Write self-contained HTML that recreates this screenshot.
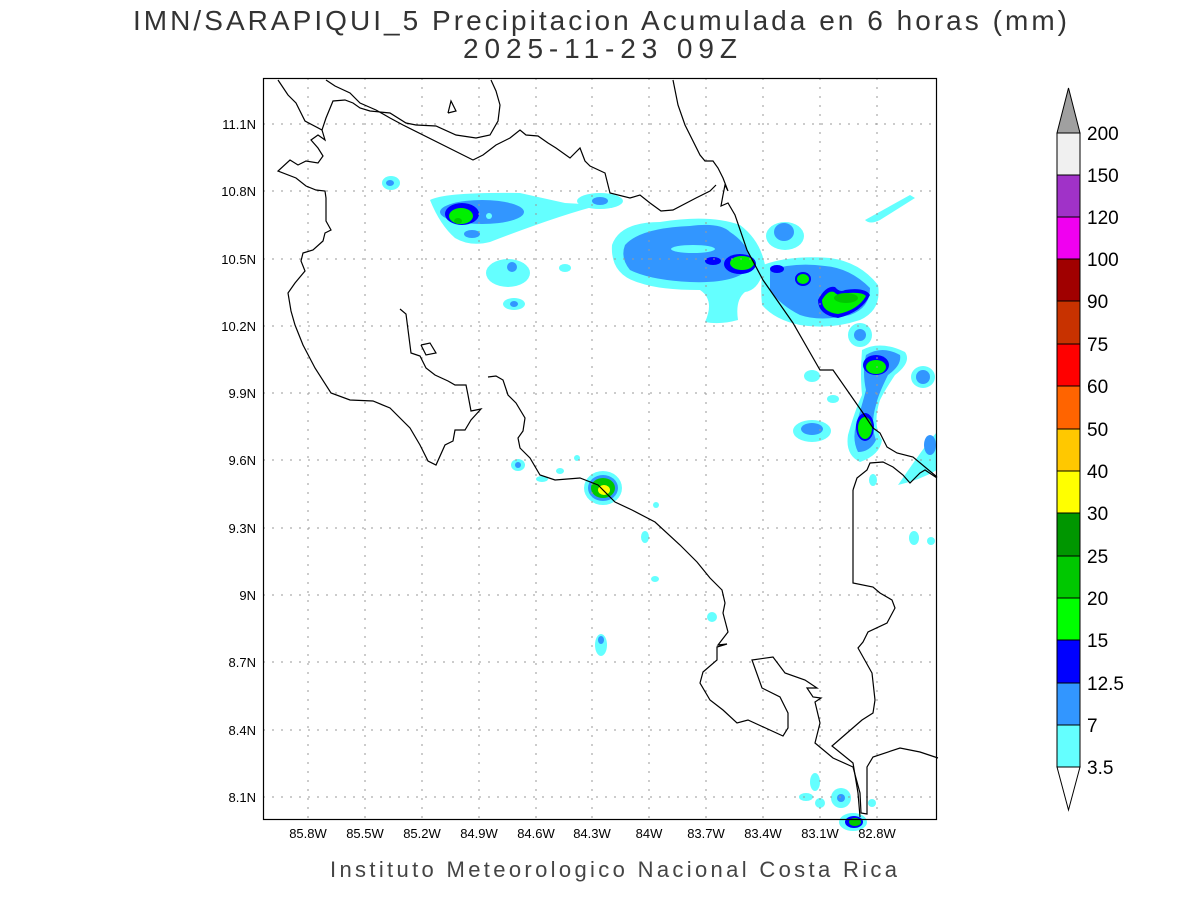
<!DOCTYPE html>
<html><head><meta charset="utf-8"><style>
body{margin:0;background:#fff;}
svg{display:block;font-family:"Liberation Sans",sans-serif;}
</style></head><body>
<svg width="1200" height="900" viewBox="0 0 1200 900" xmlns="http://www.w3.org/2000/svg">
<rect width="1200" height="900" fill="#fff"/>
<text x="133" y="30" font-size="28" textLength="934" lengthAdjust="spacing" fill="#333">IMN/SARAPIQUI_5 Precipitacion Acumulada en 6 horas (mm)</text>
<text x="463" y="58" font-size="28" textLength="274" lengthAdjust="spacing" fill="#333">2025-11-23 09Z</text>

<g>
<path d="M430,200 Q445,192 520,193 L565,203 L600,205 Q560,215 490,242 Q470,247 455,238 Q440,225 430,200Z" fill="#64ffff"/>
<ellipse cx="482" cy="212" rx="42" ry="12" fill="#3296ff"/>
<ellipse cx="462" cy="214" rx="17" ry="11" fill="#0000ff"/>
<ellipse cx="461" cy="216" rx="12" ry="8" fill="#00f000"/>
<ellipse cx="458" cy="221" rx="4" ry="3" fill="#00c800"/>
<ellipse cx="472" cy="234" rx="8" ry="4" fill="#3296ff"/>
<ellipse cx="391" cy="183" rx="9" ry="7" fill="#64ffff"/><ellipse cx="390" cy="183" rx="4" ry="3" fill="#3296ff"/>
<ellipse cx="600" cy="201" rx="23" ry="8" fill="#64ffff"/><ellipse cx="600" cy="201" rx="8" ry="4" fill="#3296ff"/>
<ellipse cx="508" cy="273" rx="22" ry="14" fill="#64ffff"/><ellipse cx="512" cy="267" rx="5" ry="5" fill="#3296ff"/>
<ellipse cx="514" cy="304" rx="11" ry="6" fill="#64ffff"/><ellipse cx="514" cy="304" rx="4" ry="3" fill="#3296ff"/>
<ellipse cx="565" cy="268" rx="6" ry="4" fill="#64ffff"/>
<ellipse cx="489" cy="216" rx="3" ry="3" fill="#64ffff"/>
<path d="M612,245 Q620,222 660,222 Q710,214 740,225 Q760,240 765,265 Q760,290 745,292 Q735,300 738,320 Q720,325 705,322 Q715,300 700,290 Q660,290 640,283 Q610,275 612,245Z" fill="#64ffff"/>
<path d="M625,245 Q640,228 690,226 Q720,222 730,232 Q750,245 752,265 Q740,284 690,282 Q650,280 630,270 Q620,258 625,245Z" fill="#3296ff"/>
<ellipse cx="693" cy="249" rx="22" ry="4" fill="#64ffff"/>
<ellipse cx="713" cy="261" rx="8" ry="4" fill="#0000ff"/>
<ellipse cx="740" cy="264" rx="16" ry="10" fill="#0000ff"/>
<ellipse cx="742" cy="263" rx="12" ry="7" fill="#00f000"/>
<ellipse cx="785" cy="236" rx="19" ry="14" fill="#64ffff"/><ellipse cx="784" cy="232" rx="10" ry="9" fill="#3296ff"/>
<path d="M763,265 Q790,255 830,258 Q860,262 878,285 Q882,310 860,320 Q830,330 800,325 Q775,320 762,305 Q760,285 763,265Z" fill="#64ffff"/>
<path d="M770,270 Q795,262 825,266 Q850,268 870,288 Q870,308 850,315 Q820,322 800,315 Q780,305 770,290Z" fill="#3296ff"/>
<ellipse cx="777" cy="269" rx="7" ry="4" fill="#0000ff"/>
<ellipse cx="803" cy="279" rx="8" ry="7" fill="#0000ff"/><ellipse cx="803" cy="279" rx="6" ry="5" fill="#00f000"/>
<path d="M818,300 Q826,285 835,287 Q840,293 845,290 Q865,287 870,295 Q862,312 838,318 Q818,315 818,300Z" fill="#0000ff"/>
<path d="M822,300 Q828,290 834,292 Q840,298 848,293 Q862,292 866,296 Q858,310 838,314 Q822,312 822,300Z" fill="#00f000"/>
<ellipse cx="846" cy="298" rx="12" ry="5" fill="#00c800"/>
<ellipse cx="860" cy="335" rx="12" ry="12" fill="#64ffff"/><ellipse cx="860" cy="335" rx="6" ry="6" fill="#3296ff"/>
<path d="M862,350 Q880,340 905,352 Q912,362 895,375 Q885,390 880,400 Q872,425 882,440 Q880,455 860,462 Q845,455 848,435 Q855,410 862,395 Q860,375 862,350Z" fill="#64ffff"/>
<path d="M866,355 Q882,345 900,355 Q902,365 888,375 Q878,395 876,405 Q870,425 876,440 Q870,452 858,452 Q852,440 856,425 Q862,405 866,390 Q862,372 866,355Z" fill="#3296ff"/>
<ellipse cx="876" cy="365" rx="13" ry="10" fill="#0000ff"/><ellipse cx="876" cy="367" rx="10" ry="7" fill="#00f000"/>
<ellipse cx="865" cy="427" rx="9" ry="14" fill="#0000ff"/><ellipse cx="865" cy="428" rx="7" ry="11" fill="#00f000"/>
<ellipse cx="812" cy="431" rx="19" ry="11" fill="#64ffff"/><ellipse cx="812" cy="429" rx="11" ry="6" fill="#3296ff"/>
<ellipse cx="812" cy="376" rx="8" ry="6" fill="#64ffff"/>
<ellipse cx="923" cy="377" rx="12" ry="11" fill="#64ffff"/><ellipse cx="923" cy="377" rx="7" ry="7" fill="#3296ff"/>
<path d="M865,220 L910,195 L915,198 L880,220 Q870,225 865,220Z" fill="#64ffff"/>
<path d="M898,485 Q915,460 930,440 L937,432 L937,470 Q920,480 898,485Z" fill="#64ffff"/>
<ellipse cx="930" cy="445" rx="6" ry="10" fill="#3296ff"/>
<ellipse cx="833" cy="399" rx="6" ry="4" fill="#64ffff"/>
<ellipse cx="603" cy="488" rx="19" ry="17" fill="#64ffff"/>
<ellipse cx="603" cy="488" rx="15" ry="13" fill="#3296ff"/>
<ellipse cx="603" cy="488" rx="12" ry="10" fill="#00c800"/>
<ellipse cx="604" cy="490" rx="6" ry="5" fill="#ffff00"/>
<ellipse cx="518" cy="465" rx="7" ry="6" fill="#64ffff"/><ellipse cx="518" cy="465" rx="3" ry="3" fill="#3296ff"/>
<ellipse cx="560" cy="471" rx="4" ry="3" fill="#64ffff"/>
<ellipse cx="577" cy="458" rx="3" ry="3" fill="#64ffff"/>
<ellipse cx="542" cy="479" rx="6" ry="3" fill="#64ffff"/>
<ellipse cx="656" cy="505" rx="3" ry="3" fill="#64ffff"/>
<ellipse cx="645" cy="537" rx="4" ry="6" fill="#64ffff"/>
<ellipse cx="655" cy="579" rx="4" ry="3" fill="#64ffff"/>
<ellipse cx="712" cy="617" rx="5" ry="5" fill="#64ffff"/>
<ellipse cx="601" cy="645" rx="6" ry="11" fill="#64ffff"/><ellipse cx="601" cy="640" rx="3" ry="4" fill="#3296ff"/>
<ellipse cx="914" cy="538" rx="5" ry="7" fill="#64ffff"/>
<ellipse cx="931" cy="541" rx="4" ry="4" fill="#64ffff"/>
<ellipse cx="873" cy="480" rx="4" ry="6" fill="#64ffff"/>
<ellipse cx="815" cy="782" rx="5" ry="9" fill="#64ffff"/>
<ellipse cx="806" cy="797" rx="7" ry="4" fill="#64ffff"/>
<ellipse cx="820" cy="803" rx="5" ry="5" fill="#64ffff"/>
<ellipse cx="841" cy="798" rx="10" ry="10" fill="#64ffff"/><ellipse cx="841" cy="798" rx="4" ry="4" fill="#3296ff"/>
<ellipse cx="853" cy="822" rx="14" ry="9" fill="#64ffff"/><ellipse cx="854" cy="822" rx="9" ry="6" fill="#0000ff"/><ellipse cx="855" cy="822" rx="6" ry="4" fill="#00c800"/>
<ellipse cx="872" cy="803" rx="4" ry="4" fill="#64ffff"/>
</g>

<g stroke="#999" stroke-width="1" stroke-dasharray="2,7">
<line x1="308" y1="78" x2="308" y2="820"/><line x1="365" y1="78" x2="365" y2="820"/><line x1="422" y1="78" x2="422" y2="820"/><line x1="479" y1="78" x2="479" y2="820"/><line x1="536" y1="78" x2="536" y2="820"/><line x1="592" y1="78" x2="592" y2="820"/><line x1="649" y1="78" x2="649" y2="820"/><line x1="706" y1="78" x2="706" y2="820"/><line x1="763" y1="78" x2="763" y2="820"/><line x1="820" y1="78" x2="820" y2="820"/><line x1="877" y1="78" x2="877" y2="820"/>
<line x1="263" y1="124" x2="937" y2="124"/><line x1="263" y1="191" x2="937" y2="191"/><line x1="263" y1="259" x2="937" y2="259"/><line x1="263" y1="326" x2="937" y2="326"/><line x1="263" y1="393" x2="937" y2="393"/><line x1="263" y1="460" x2="937" y2="460"/><line x1="263" y1="528" x2="937" y2="528"/><line x1="263" y1="595" x2="937" y2="595"/><line x1="263" y1="662" x2="937" y2="662"/><line x1="263" y1="730" x2="937" y2="730"/><line x1="263" y1="797" x2="937" y2="797"/>
</g>

<g fill="none" stroke="#000" stroke-width="1.2">
<polyline points="278,80 288,95 296,103 305,121 322,130 326,118 333,101 345,100 353,103 360,108 370,111 390,113 406,123 416,125 436,126 456,135 476,138 490,135 498,121 500,105 496,91 491,80"/>
<polyline points="326,80 335,86 350,93 360,103 376,110 390,118 403,125 473,160 483,155 496,145 510,138 520,130 526,135 538,136 548,143 556,148 570,158 580,148 585,161 590,166 605,173 610,193 630,198 640,195 650,203 661,211 673,210 696,198 710,191 716,185"/>
<polyline points="673,80 678,105 685,125 700,155 705,161 713,161 718,168 723,178 728,191 725,185 723,195 721,206 728,203 735,215 747,250 763,280 793,323 820,370 833,370 840,380 863,413 873,428 880,433 887,447 897,453 913,457 937,477"/>
<polyline points="322,130 325,140 318,135 311,140 318,148 323,156 318,163 306,161 298,165 290,160 278,171 296,178 306,186 316,190 325,191 326,198 326,221 331,230 325,233 323,241 313,250 303,253 301,261 305,271 295,283 288,293 291,311 295,325 303,345 315,368 331,393 350,400 373,401 390,408 410,428 420,445 428,461 436,465 445,445 453,441 455,430 465,430 471,420 481,409 471,411 468,395 466,385 455,385 448,381 435,375 426,368 420,356 411,353 406,314 400,309"/>
<polyline points="421,345 430,343 436,353 426,355 421,345"/>
<polyline points="448,113 451,101 456,111 448,113"/>
<polyline points="488,377 496,376 503,380 508,395 516,403 525,418 523,431 518,438 520,448 530,458 540,475 555,480 580,478 598,485 615,502 632,510 655,522 680,545 697,562 710,578 722,590 725,603 723,613 728,632 718,645 727,644 717,647 717,660 703,672 700,683 710,700 723,710 737,723 748,720 783,736 788,728 788,713 780,697 762,688 752,660 773,657 785,673 805,680 817,688 807,688 813,697 821,698 815,702 820,723 815,743 833,758 853,767 860,793 861,813 867,814 867,767 873,757 900,748 920,752 938,758"/>
<polyline points="853,490 853,583 873,587 880,593 892,600 895,608 887,623 868,632 863,642 858,648 872,673 875,700 873,713 862,720 847,733 832,746 853,763 858,793 860,817"/>
<polyline points="853,490 857,478 867,470 870,463 883,462 893,467 903,475 910,483 920,473 925,470 937,478"/>
</g>

<rect x="263.5" y="78.5" width="673" height="741" fill="none" stroke="#000" stroke-width="1.2"/>

<g font-size="13" fill="#000" text-anchor="middle">
<text x="308" y="838">85.8W</text><text x="365" y="838">85.5W</text><text x="422" y="838">85.2W</text><text x="479" y="838">84.9W</text><text x="536" y="838">84.6W</text><text x="592" y="838">84.3W</text><text x="649" y="838">84W</text><text x="706" y="838">83.7W</text><text x="763" y="838">83.4W</text><text x="820" y="838">83.1W</text><text x="877" y="838">82.8W</text>
</g>
<g font-size="13" fill="#000" text-anchor="end">
<text x="256" y="129">11.1N</text><text x="256" y="196">10.8N</text><text x="256" y="264">10.5N</text><text x="256" y="331">10.2N</text><text x="256" y="398">9.9N</text><text x="256" y="465">9.6N</text><text x="256" y="533">9.3N</text><text x="256" y="600">9N</text><text x="256" y="667">8.7N</text><text x="256" y="735">8.4N</text><text x="256" y="802">8.1N</text>
</g>

<g stroke="#000" stroke-width="1">
<polygon points="1057,133 1080,133 1068.5,88" fill="#a0a0a0"/>
<rect x="1057" y="133" width="23" height="42" fill="#f0f0f0"/>
<rect x="1057" y="175" width="23" height="42" fill="#a032c8"/>
<rect x="1057" y="217" width="23" height="42" fill="#f000f0"/>
<rect x="1057" y="259" width="23" height="42" fill="#a00000"/>
<rect x="1057" y="301" width="23" height="43" fill="#c83200"/>
<rect x="1057" y="344" width="23" height="42" fill="#ff0000"/>
<rect x="1057" y="386" width="23" height="43" fill="#ff6400"/>
<rect x="1057" y="429" width="23" height="42" fill="#ffc800"/>
<rect x="1057" y="471" width="23" height="42" fill="#ffff00"/>
<rect x="1057" y="513" width="23" height="43" fill="#009600"/>
<rect x="1057" y="556" width="23" height="42" fill="#00c800"/>
<rect x="1057" y="598" width="23" height="42" fill="#00ff00"/>
<rect x="1057" y="640" width="23" height="43" fill="#0000ff"/>
<rect x="1057" y="683" width="23" height="42" fill="#3296ff"/>
<rect x="1057" y="725" width="23" height="42" fill="#64ffff"/>
<polygon points="1057,767 1080,767 1068.5,810" fill="#fff"/>
</g>
<g font-size="19" fill="#000">
<text x="1087" y="140">200</text><text x="1087" y="182">150</text><text x="1087" y="224">120</text><text x="1087" y="266">100</text><text x="1087" y="308">90</text><text x="1087" y="351">75</text><text x="1087" y="393">60</text><text x="1087" y="436">50</text><text x="1087" y="478">40</text><text x="1087" y="520">30</text><text x="1087" y="563">25</text><text x="1087" y="605">20</text><text x="1087" y="647">15</text><text x="1087" y="690">12.5</text><text x="1087" y="732">7</text><text x="1087" y="774">3.5</text>
</g>

<text x="330" y="877" font-size="22" textLength="567" lengthAdjust="spacing" fill="#444">Instituto Meteorologico Nacional Costa Rica</text>
</svg>
</body></html>
